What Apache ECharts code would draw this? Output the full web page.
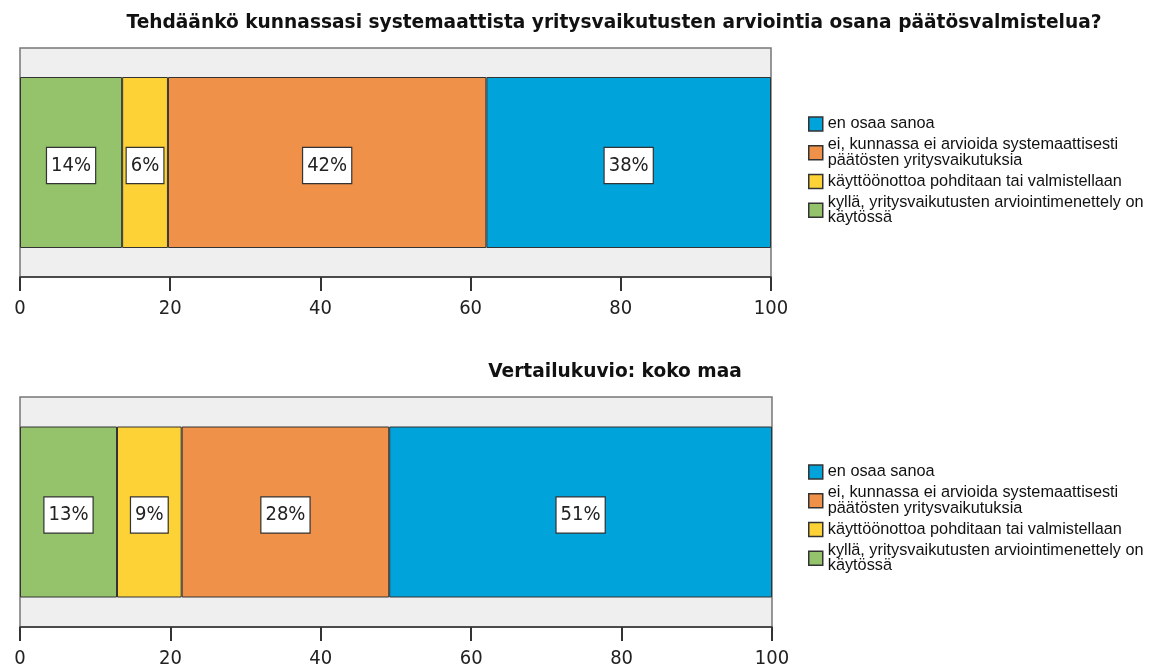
<!DOCTYPE html>
<html>
<head>
<meta charset="UTF-8">
<title>Yritysvaikutusten arviointi</title>
<script src="https://cdn.jsdelivr.net/npm/echarts@6/dist/echarts.min.js"></script>
<style>
    html, body { margin: 0; padding: 0; background: #fff; }
    #main { width: 1161px; height: 669px; }
</style>
</head>
<body>
<div id="main"></div>
<script>
    // vastausvaihtoehdot pinoamisjärjestyksessä (vasemmalta oikealle)
    var answers = [
        'kyllä, yritysvaikutusten arviointimenettely on\nkäytössä',
        'käyttöönottoa pohditaan tai valmistellaan',
        'ei, kunnassa ei arvioida systemaattisesti\npäätösten yritysvaikutuksia',
        'en osaa sanoa'
    ];
    var colors = ['#95c36b', '#fdd236', '#f0914a', '#00a3da'];
    // osuudet (%) luettu kuvasta
    var kunta = [13.6, 6.1, 42.4, 37.9];
    var kokoMaa = [12.9, 8.6, 27.6, 50.9];
    var xTicks = [0, 20, 40, 60, 80, 100];

    var titles = [
        'Tehdäänkö kunnassasi systemaattista yritysvaikutusten arviointia osana päätösvalmistelua?',
        'Vertailukuvio: koko maa'
    ];

    var font = 'DejaVu Sans Condensed';
    var legendOrder = answers.slice().reverse();

    function makeAxis(idx) {
        return {
            type: 'value', gridIndex: idx, min: 0, max: 100, interval: 20,
            axisLine: { show: true, lineStyle: { color: '#333', width: 1.5 } },
            axisTick: { show: true, length: 14, lineStyle: { color: '#333', width: 2 } },
            axisLabel: {
                color: '#222', fontFamily: font, fontSize: 20, margin: 22,
                formatter: function (v) { return xTicks.indexOf(v) >= 0 ? String(v) : ''; }
            },
            splitLine: { show: false }
        };
    }

    function makeSeries(values, idx) {
        return values.map(function (v, i) {
            return {
                name: answers[i], type: 'bar', stack: 's' + idx,
                xAxisIndex: idx, yAxisIndex: idx,
                barWidth: 171,
                data: [v],
                itemStyle: { color: colors[i], borderColor: '#333', borderWidth: 1 },
                label: {
                    show: true, position: 'inside', offset: [0, 3],
                    formatter: function (p) { return Math.round(p.value) + '%'; },
                    fontFamily: font, fontSize: 20, color: '#222',
                    backgroundColor: '#fff', borderColor: '#333', borderWidth: 1.2,
                    padding: [8, 4, 7, 4]
                },
                emphasis: { disabled: true }
            };
        });
    }

    function makeLegend(top) {
        return {
            data: legendOrder, orient: 'vertical', left: 803, top: top,
            icon: 'rect', itemWidth: 14, itemHeight: 14, itemGap: 5,
            itemStyle: { borderColor: '#333', borderWidth: 1.5 },
            textStyle: { fontFamily: 'Liberation Sans', fontSize: 16.3, color: '#111', lineHeight: 15.5 },
            selectedMode: false
        };
    }

    var chart = echarts.init(document.getElementById('main'));
    chart.setOption({
        animation: false,
        title: [
            { text: titles[0], left: 609, top: 9, textAlign: 'center',
              textStyle: { fontFamily: 'DejaVu Sans', fontWeight: 'bold', fontSize: 18.6, color: '#111' } },
            { text: titles[1], left: 610, top: 358, textAlign: 'center',
              textStyle: { fontFamily: 'DejaVu Sans', fontWeight: 'bold', fontSize: 18.6, color: '#111' } }
        ],
        legend: [makeLegend(111), makeLegend(459)],
        grid: [
            { left: 20, top: 48, width: 751, height: 229, show: true,
              backgroundColor: '#efefef', borderColor: '#777', borderWidth: 1.5 },
            { left: 20, top: 397, width: 752, height: 230, show: true,
              backgroundColor: '#efefef', borderColor: '#777', borderWidth: 1.5 }
        ],
        xAxis: [makeAxis(0), makeAxis(1)],
        yAxis: [
            { type: 'category', gridIndex: 0, data: ['kunta'], show: false },
            { type: 'category', gridIndex: 1, data: ['koko maa'], show: false }
        ],
        series: makeSeries(kunta, 0).concat(makeSeries(kokoMaa, 1))
    });
</script>
</body>
</html>
